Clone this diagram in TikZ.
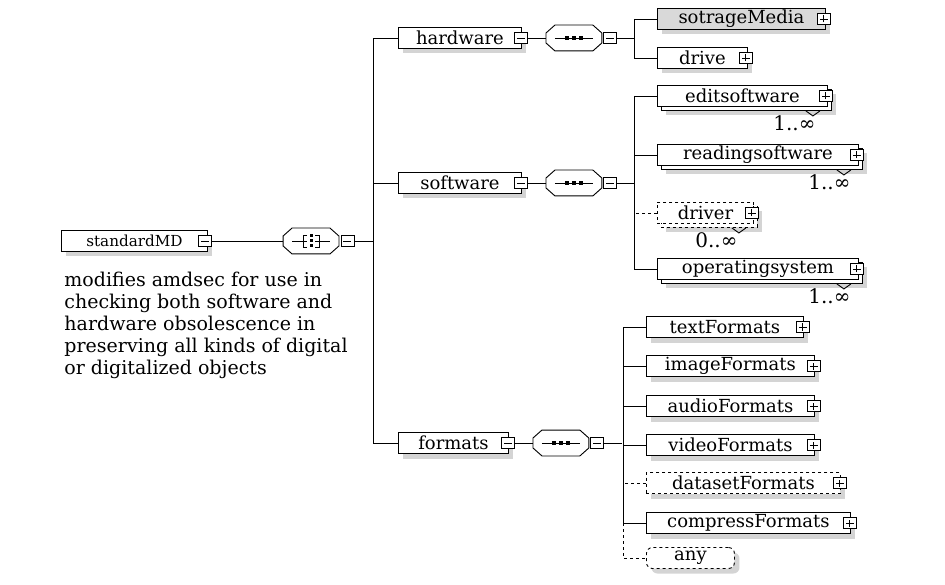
\documentclass[tikz,border=0pt]{standalone}
\usepackage{fontspec}
\setmainfont{DejaVu Serif}
\usetikzlibrary{positioning, shadows}

\tikzset{
  elem/.style={draw, fill=white, anchor=west, minimum height=21pt, inner sep=0pt,
               font=\fontsize{18}{20}\selectfont},
  single/.style={drop shadow={shadow xshift=5pt, shadow yshift=-5pt, fill=black!17, opacity=1}},
  graysingle/.style={single, fill=black!15},
  optsingle/.style={single, dashed},
  multi/.style={drop shadow={shadow xshift=9pt, shadow yshift=-9pt, fill=black!17, opacity=1},
                copy shadow={shadow xshift=4pt, shadow yshift=-4pt, draw=black, fill=white}},
  optmulti/.style={multi, dashed},
  minusbox/.style={draw, fill=white, minimum width=13pt, minimum height=11pt, inner sep=0pt,
    path picture={\draw ([xshift=2.5pt]path picture bounding box.west)
                     -- ([xshift=-2.5pt]path picture bounding box.east);}},
  plusbox/.style={minusbox,
    path picture={\draw ([xshift=2.5pt]path picture bounding box.west)
                     -- ([xshift=-2.5pt]path picture bounding box.east);
                  \draw ([yshift=2pt]path picture bounding box.south)
                     -- ([yshift=-2pt]path picture bounding box.north);}},
  compobase/.style={minimum width=55pt, minimum height=25pt, inner sep=0pt},
  seqsym/.style={path picture={
    \coordinate (c) at (path picture bounding box.center);
    \draw ([xshift=-19pt]c) -- ([xshift=19pt]c);
    \foreach \d in {-7,0,7}
      \fill ([xshift=\d pt]c) ++(-2pt,-2pt) rectangle ++(4pt,4pt);}},
  allsym/.style={path picture={
    \coordinate (c) at (path picture bounding box.center);
    \draw ([xshift=-19pt]c) -- ([xshift=-4pt]c);
    \draw ([xshift=4pt]c) -- ([xshift=19pt]c);
    \draw ([xshift=-4pt,yshift=6pt]c) -| ([xshift=-8pt,yshift=-6pt]c) -- ([xshift=-4pt,yshift=-6pt]c);
    \draw ([xshift=4pt,yshift=6pt]c) -| ([xshift=8pt,yshift=-6pt]c) -- ([xshift=4pt,yshift=-6pt]c);
    \foreach \d in {-5,0,5}
      \fill ([yshift=\d pt]c) ++(-1.5pt,-1.5pt) rectangle ++(3pt,3pt);}},
  occ/.style={anchor=north east, inner sep=0pt, font=\fontsize{20}{22}\selectfont},
  desc/.style={anchor=north west, inner sep=0pt, align=left,
               font=\fontsize{19}{22}\selectfont}
}

% octagonal outline round a compositor node
\newcommand{\octagon}[1]{([xshift=9pt]#1.north west) -- ([xshift=-9pt]#1.north east)
  -- ([yshift=-8pt]#1.north east) -- ([yshift=8pt]#1.south east)
  -- ([xshift=-9pt]#1.south east) -- ([xshift=9pt]#1.south west)
  -- ([yshift=8pt]#1.south west) -- ([yshift=-8pt]#1.north west) -- cycle}
% compositor: name, position, symbol style
\newcommand{\compo}[3]{%
  \node[compobase] (#1) at (#2) {};
  \fill[black!17, shift={(5pt,-5pt)}] \octagon{#1};
  \filldraw[fill=white] \octagon{#1};
  \path[#3] (#1.south west) rectangle (#1.north east);
}

\begin{document}
\begin{tikzpicture}[x=1pt, y=-1pt, line width=0.9pt]
  \useasboundingbox[fill=white] (0,0) rectangle (945,585);

  % root element and its compositor
  \node[elem, single, minimum width=146pt, font=\fontsize{15.2}{17}\selectfont]
    (md) at (61,241) {standardMD\hspace{10pt}};
  \node[minusbox] (md-m) at ([xshift=-2.5pt]md.east) {};
  \compo{all}{311,241}{allsym}
  \node[minusbox] (all-m) at ([xshift=8.5pt]all.east) {};
  \coordinate (bus) at (373,241);
  \draw (md-m) -- (all);
  \draw (all-m) -- (bus);

  \node[desc] (note) at (64,272)
    {modifies amdsec for use in\\checking both software and\\hardware obsolescence in\\preserving all kinds of digital\\or digitalized objects};

  % second level
  \foreach \nm/\lbl/\y/\w in {hw/hardware/38/123, sw/software/183/123, fm/formats/443/110} {
    \node[elem, single, minimum width=\w pt] (\nm) at (398,\y) {\lbl\hspace{4pt}};
    \node[minusbox] (\nm-m) at ([xshift=-1pt]\nm.east) {};
    \compo{\nm-s}{[xshift=52pt]\nm.east}{seqsym}
    \node[minusbox] (\nm-s-m) at ([xshift=8.5pt]\nm-s.east) {};
    \draw (\nm-m) -- (\nm-s);
    \draw (\nm-s-m.east) -- ++(18,0);
  }
  \draw (hw.west) -- ++(-25,0) |- (fm.west);
  \draw (sw.west) -- ++(-25,0);

  % hardware / software children
  \foreach \nm/\lbl/\y/\w/\kind/\ln in {
      sm/sotrageMedia/19/168/graysingle/solid,
      dr/drive/58/90/single/solid,
      es/editsoftware/96/170/multi/solid,
      rs/readingsoftware/155/201/multi/solid,
      dv/driver/213/96/optmulti/dashed,
      os/operatingsystem/269/201/multi/solid} {
    \node[elem, \kind, minimum width=\w pt] (\nm) at (657,\y) {\lbl\hspace{4pt}};
    \node[plusbox] (\nm-p) at ([xshift=-2pt]\nm.east) {};
    \draw[\ln] (\nm.west) -- ++(-23,0);
  }
  \draw ([xshift=-23pt]sm.west) -- ([xshift=-23pt]dr.west);
  \draw ([xshift=-23pt]es.west) -- ([xshift=-23pt]os.west);

  % occurrence marks
  \foreach \nm/\occlbl/\dx in {es/1..∞/12, rs/1..∞/8, dv/0..∞/16, os/1..∞/8} {
    \draw ([xshift=-22pt,yshift=-4pt]\nm.south east) -- ++(7,5) -- ++(7,-5);
    \node[occ] (\nm-o) at ([xshift=-\dx pt,yshift=-8pt]\nm.south east) {\occlbl};
  }

  % formats children
  \foreach \nm/\lbl/\y/\w/\kind/\ln in {
      tf/textFormats/327/157/single/solid,
      imf/imageFormats/366/168/single/solid,
      af/audioFormats/406/168/single/solid,
      vf/videoFormats/445/168/single/solid,
      df/datasetFormats/483/194/optsingle/dashed,
      cf/compressFormats/523/204/single/solid} {
    \node[elem, \kind, minimum width=\w pt] (\nm) at (646,\y) {\lbl\hspace{4pt}};
    \node[plusbox] (\nm-p) at ([xshift=-1pt]\nm.east) {};
    \draw[\ln] (\nm.west) -- ++(-23,0);
  }
  \node[elem, single, dashed, rounded corners=6pt, minimum width=88pt] (any) at (646,558)
    {any\hspace{18pt}};
  \draw ([xshift=-23pt]tf.west) -- ([xshift=-23pt]cf.west);
  \draw[dashed] ([xshift=-23pt]cf.west) |- (any.west);
\end{tikzpicture}
\end{document}
